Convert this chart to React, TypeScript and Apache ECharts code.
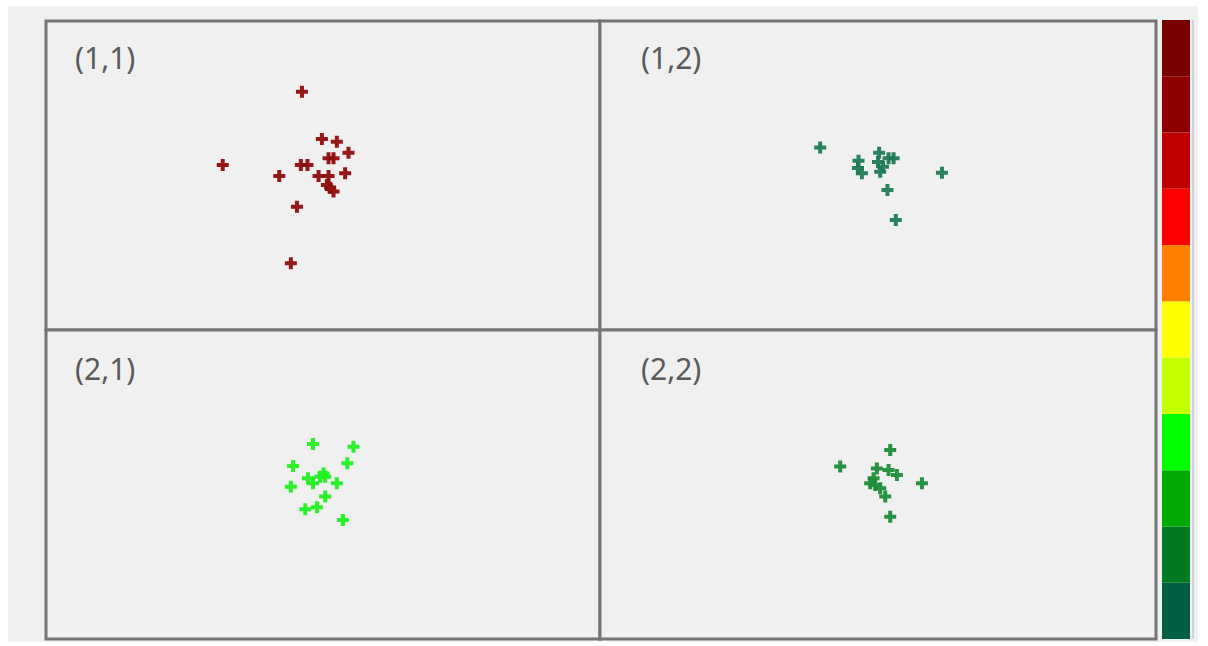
import React, { useEffect, useRef } from "react";
import * as echarts from "echarts";

// Panel labels
const panelLabels = ["(1,1)", "(1,2)", "(2,1)", "(2,2)"];

// Scatter data per panel: [x, y] on a 0–100 scale for each panel
const panel11: number[][] = [
  [46.2, 77.1], [31.9, 53.4], [42.1, 49.8], [46.0, 53.4], [47.2, 53.4],
  [45.3, 39.9], [44.2, 21.6], [49.8, 61.8], [52.5, 60.9], [54.6, 57.4],
  [51.0, 55.6], [51.9, 55.6], [54.0, 50.7], [49.2, 49.8], [51.0, 49.8],
  [50.7, 46.9], [51.3, 46.0], [51.9, 44.8],
];
const panel12: number[][] = [
  [39.6, 59.1], [46.5, 54.8], [47.1, 50.7], [50.2, 57.4], [51.9, 55.6],
  [52.8, 55.6], [50.4, 51.2], [50.9, 52.8], [51.7, 45.3], [53.2, 35.6],
  [61.5, 50.9], [46.4, 52.4], [50.0, 54.4],
];
const panel21: number[][] = [
  [48.2, 63.1], [55.5, 62.2], [44.6, 56.0], [54.4, 56.9], [47.3, 52.0],
  [50.1, 53.6], [50.4, 52.5], [49.5, 52.5], [48.2, 50.4], [52.5, 50.4],
  [44.2, 49.3], [50.4, 46.1], [48.9, 42.6], [46.8, 42.0], [53.6, 38.5],
];
const panel22: number[][] = [
  [52.2, 61.2], [43.2, 55.8], [49.8, 55.2], [51.9, 54.7], [53.4, 53.1],
  [49.2, 52.0], [48.6, 50.4], [49.5, 49.8], [57.9, 50.4], [50.4, 48.8],
  [51.3, 46.1], [52.2, 39.6],
];
const panelData = [panel11, panel12, panel21, panel22];
const panelColors = ["#8e0c0c", "#1d7a55", "#1ff01f", "#1b8c36"];

// Colour bar bands, bottom to top
const colorBands = [
  "#005e42", "#007a22", "#00aa00", "#00ff00", "#c4ff00", "#ffff00",
  "#ff8000", "#ff0000", "#c00000", "#8e0000", "#7a0000",
];
const bandValues = colorBands.map(() => 1);

const PLUS = "path://M4,0H8V4H12V8H8V12H4V8H0V4H4Z";

export default function App() {
  const ref = useRef<HTMLDivElement>(null);
  useEffect(() => {
    if (!ref.current) return;
    const chart = echarts.init(ref.current, undefined, { renderer: "svg" });
    const grids: any[] = [
      { left: 38, top: 15, width: 554, height: 309 },
      { left: 592, top: 15, width: 556, height: 309 },
      { left: 38, top: 324, width: 554, height: 309 },
      { left: 592, top: 324, width: 556, height: 309 },
    ].map((g) => ({
      ...g,
      show: true,
      borderColor: "#747474",
      borderWidth: 3,
      backgroundColor: "#f0f0f0",
    }));
    grids.push({ left: 1154, top: 14, width: 28, height: 619, show: false });

    const xAxes: any[] = [0, 1, 2, 3].map((i) => ({
      type: "value", gridIndex: i, min: 0, max: 100, show: false,
    }));
    const yAxes: any[] = [0, 1, 2, 3].map((i) => ({
      type: "value", gridIndex: i, min: 0, max: 100, show: false,
    }));
    xAxes.push({ type: "category", gridIndex: 4, data: ["bar"], show: false });
    yAxes.push({ type: "value", gridIndex: 4, min: 0, max: colorBands.length, show: false });

    const scatterSeries = panelData.map((d, i) => ({
      type: "scatter",
      xAxisIndex: i,
      yAxisIndex: i,
      data: d,
      symbol: PLUS,
      symbolSize: 12,
      itemStyle: { color: panelColors[i], opacity: 0.95 },
      silent: true,
    }));
    const barSeries = colorBands.map((c, i) => ({
      type: "bar",
      name: "band" + i,
      xAxisIndex: 4,
      yAxisIndex: 4,
      stack: "cb",
      barWidth: "100%",
      data: [bandValues[i]],
      itemStyle: { color: c },
      silent: true,
    }));

    const labelPos = [
      [67, 36], [633, 36], [67, 347], [633, 347],
    ];
    chart.setOption({
      animation: false,
      backgroundColor: "#f0f0f0",
      grid: grids,
      xAxis: xAxes,
      yAxis: yAxes,
      series: [...scatterSeries, ...barSeries],
      graphic: [
        ...panelLabels.map((t, i) => ({
          type: "text",
          left: labelPos[i][0],
          top: labelPos[i][1],
          style: {
            text: t,
            fill: "#5a5a5a",
            font: "30px 'Noto Sans'",
          },
        })),
        {
          type: "line",
          shape: { x1: 1185, y1: 14, x2: 1185, y2: 633 },
          style: { stroke: "#b4b4c8", lineWidth: 1 },
        },
      ],
    });
    return () => chart.dispose();
  }, []);
  return (
    <div
      ref={ref}
      style={{ position: "absolute", left: 8, top: 6, width: 1190, height: 636 }}
    />
  );
}
